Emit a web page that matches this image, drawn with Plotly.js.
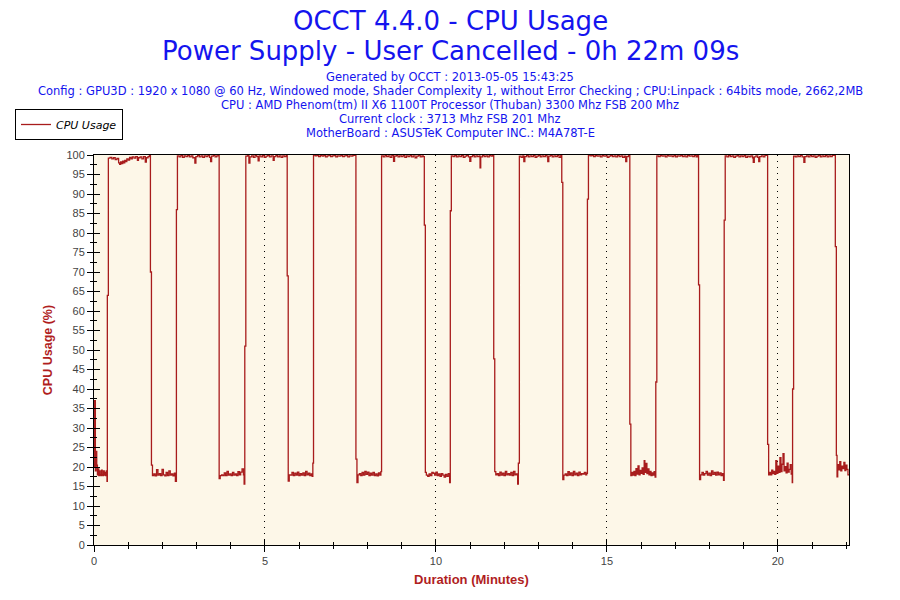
<!DOCTYPE html>
<html><head><meta charset="utf-8">
<script src="https://cdn.plot.ly/plotly-3.0.1.min.js"></script>
<style>html,body{margin:0;padding:0;background:#fff}#chart{width:900px;height:600px}</style>
</head><body><div id="chart"></div>
<script>
const titleLines = ["OCCT 4.4.0 - CPU Usage", "Power Supply - User Cancelled - 0h 22m 09s"];
const infoLines = [
  "Generated by OCCT : 2013-05-05 15:43:25",
  "Config : GPU3D : 1920 x 1080 @ 60 Hz, Windowed mode, Shader Complexity 1, without Error Checking ; CPU:Linpack : 64bits mode, 2662,2MB",
  "CPU : AMD Phenom(tm) II X6 1100T Processor (Thuban) 3300 Mhz FSB 200 Mhz",
  "Current clock : 3713 Mhz FSB 201 Mhz",
  "MotherBoard : ASUSTeK Computer INC.: M4A78T-E"
];
const seriesName = "CPU Usage";
const xTitle = "Duration (Minutes)";
const yTitle = "CPU Usage (%)";
const xMax = 22.08;

const minutes = [
  0, 0.02, 0.04, 0.06, 0.08, 0.10, 0.12, 0.14, 0.16, 0.18, 0.20, 0.22, 0.24, 0.26, 0.28, 0.30, 0.32, 0.34, 0.36, 0.38, 0.39,
  0.42, 0.47, 0.52, 0.57, 0.62, 0.67, 0.72, 0.75, 0.78, 0.81, 0.84, 0.87, 0.90, 0.93, 0.96, 1.00, 1.04, 1.08, 1.12, 1.17, 1.22, 1.27, 1.30, 1.35, 1.40, 1.45, 1.50, 1.53, 1.58, 1.62, 1.65,
  1.68, 1.71, 1.75, 1.79, 1.83, 1.87, 1.91, 1.95, 1.99, 2.03, 2.07, 2.11, 2.15, 2.19, 2.23, 2.27, 2.31, 2.35, 2.38, 2.41,
  2.44, 2.49, 2.54, 2.59, 2.64, 2.69, 2.74, 2.79, 2.84, 2.89, 2.95, 2.98, 3.03, 3.08, 3.13, 3.18, 3.23, 3.28, 3.33, 3.38, 3.41, 3.44, 3.49, 3.54, 3.59, 3.63,
  3.66, 3.69, 3.73, 3.77, 3.81, 3.85, 3.89, 3.93, 3.97, 4.01, 4.05, 4.09, 4.13, 4.17, 4.21, 4.25, 4.29, 4.33, 4.37, 4.39, 4.41,
  4.44, 4.49, 4.53, 4.56, 4.61, 4.66, 4.71, 4.76, 4.80, 4.83, 4.88, 4.93, 4.98, 5.03, 5.08, 5.13, 5.18, 5.24, 5.27, 5.32, 5.37, 5.42, 5.47, 5.52, 5.57, 5.62, 5.65,
  5.68, 5.71, 5.75, 5.79, 5.83, 5.87, 5.91, 5.95, 5.99, 6.03, 6.07, 6.11, 6.15, 6.19, 6.23, 6.27, 6.31, 6.35, 6.38, 6.40,
  6.42, 6.47, 6.52, 6.57, 6.62, 6.67, 6.72, 6.77, 6.82, 6.87, 6.92, 6.97, 7.02, 7.07, 7.12, 7.17, 7.22, 7.27, 7.32, 7.37, 7.42, 7.47, 7.52, 7.57, 7.62, 7.66,
  7.69, 7.72, 7.76, 7.80, 7.84, 7.88, 7.92, 7.96, 8.00, 8.04, 8.08, 8.12, 8.16, 8.20, 8.24, 8.28, 8.32, 8.36, 8.39,
  8.41, 8.46, 8.51, 8.56, 8.61, 8.66, 8.71, 8.76, 8.79, 8.84, 8.89, 8.94, 8.99, 9.04, 9.09, 9.14, 9.19, 9.24, 9.29, 9.34, 9.39, 9.44, 9.49, 9.54, 9.59, 9.63, 9.66,
  9.69, 9.72, 9.76, 9.80, 9.84, 9.88, 9.92, 9.96, 10.00, 10.04, 10.08, 10.12, 10.16, 10.20, 10.24, 10.28, 10.32, 10.36, 10.40, 10.42,
  10.45, 10.50, 10.55, 10.60, 10.65, 10.70, 10.75, 10.80, 10.85, 10.90, 10.95, 10.99, 11.02, 11.07, 11.12, 11.17, 11.22, 11.27, 11.29, 11.31, 11.36, 11.41, 11.46, 11.51, 11.56, 11.61, 11.66, 11.69,
  11.72, 11.75, 11.79, 11.83, 11.87, 11.91, 11.95, 11.99, 12.03, 12.07, 12.11, 12.15, 12.19, 12.23, 12.27, 12.31, 12.35, 12.39, 12.41,
  12.44, 12.49, 12.54, 12.57, 12.60, 12.65, 12.70, 12.75, 12.80, 12.85, 12.90, 12.95, 13.00, 13.05, 13.10, 13.15, 13.20, 13.25, 13.27, 13.30, 13.35, 13.40, 13.45, 13.50, 13.55, 13.60, 13.65, 13.68,
  13.71, 13.74, 13.78, 13.82, 13.86, 13.90, 13.94, 13.98, 14.02, 14.06, 14.10, 14.14, 14.18, 14.22, 14.26, 14.30, 14.34, 14.38, 14.41, 14.43,
  14.46, 14.51, 14.56, 14.61, 14.66, 14.71, 14.76, 14.81, 14.86, 14.91, 14.96, 15.01, 15.06, 15.11, 15.16, 15.21, 15.26, 15.31, 15.36, 15.41, 15.46, 15.51, 15.55, 15.58, 15.63, 15.67,
  15.70, 15.73, 15.76, 15.79, 15.82, 15.85, 15.88, 15.91, 15.94, 15.97, 16.00, 16.03, 16.06, 16.09, 16.11, 16.14, 16.17, 16.20, 16.23, 16.26, 16.29, 16.32, 16.35, 16.38, 16.41, 16.43,
  16.46, 16.51, 16.56, 16.61, 16.66, 16.71, 16.76, 16.81, 16.86, 16.91, 16.96, 17.01, 17.06, 17.11, 17.16, 17.21, 17.26, 17.31, 17.36, 17.41, 17.46, 17.51, 17.56, 17.61, 17.65, 17.68,
  17.71, 17.74, 17.78, 17.82, 17.86, 17.90, 17.94, 17.98, 18.02, 18.06, 18.10, 18.14, 18.18, 18.22, 18.26, 18.30, 18.34, 18.38, 18.41, 18.43,
  18.46, 18.51, 18.56, 18.61, 18.66, 18.71, 18.76, 18.81, 18.86, 18.91, 18.96, 19.01, 19.06, 19.11, 19.16, 19.21, 19.26, 19.28, 19.31, 19.36, 19.41, 19.44, 19.47, 19.52, 19.57, 19.62, 19.67, 19.70,
  19.73, 19.76, 19.79, 19.82, 19.85, 19.88, 19.91, 19.94, 19.97, 20.00, 20.03, 20.06, 20.09, 20.12, 20.15, 20.18, 20.21, 20.24, 20.27, 20.30, 20.33, 20.36, 20.39, 20.42, 20.43,
  20.46, 20.51, 20.56, 20.61, 20.66, 20.71, 20.76, 20.79, 20.84, 20.89, 20.94, 20.99, 21.04, 21.09, 21.14, 21.19, 21.24, 21.29, 21.34, 21.39, 21.44, 21.49, 21.54, 21.59, 21.64, 21.68,
  21.71, 21.73, 21.75, 21.78, 21.81, 21.84, 21.87, 21.90, 21.93, 21.96, 21.99, 22.02, 22.05, 22.08
];

const cpuUsage = [
  20, 37, 19, 24, 20.5, 18, 19.5, 17.8, 19, 18, 17.8, 19.2, 18, 17.8, 19, 17.9, 18.6, 17.8, 19, 16.3, 64,
  99.2, 99.4, 99.0, 99.3, 98.8, 99.1, 98.0, 97.6, 98.2, 97.8, 98.4, 98.0, 98.6, 98.3, 99.0, 98.7, 99.4, 99.0, 99.5, 99.2, 99.6, 98.6, 99.3, 99.5, 99.0, 99.6, 98.2, 99.3, 99.6, 100, 70,
  20.5, 17.8, 18.2, 17.7, 19.3, 17.9, 18.3, 17.8, 19.4, 18.0, 17.7, 18.6, 17.8, 19.0, 17.9, 18.2, 17.7, 18.4, 16.3, 86,
  99.8, 99.5, 99.9, 99.4, 99.8, 99.6, 99.9, 99.5, 99.8, 99.3, 97.9, 99.6, 99.9, 99.5, 99.8, 99.4, 99.8, 99.6, 99.9, 99.4, 98.3, 99.7, 99.9, 99.5, 99.8, 100,
  17.0, 17.8, 18.0, 17.8, 18.5, 17.8, 18.9, 17.9, 18.2, 17.8, 18.6, 17.9, 18.2, 17.8, 18.8, 18.0, 18.7, 19.5, 18.0, 15.6, 51,
  99.7, 99.9, 97.9, 99.5, 99.8, 99.4, 99.9, 99.6, 98.5, 99.8, 99.5, 99.9, 99.4, 99.7, 99.9, 99.5, 99.8, 98.6, 99.6, 99.9, 99.5, 99.8, 99.4, 99.8, 99.6, 100, 69,
  16.4, 18.0, 17.9, 18.6, 17.8, 18.4, 17.9, 18.7, 17.8, 18.3, 17.9, 18.5, 17.8, 18.9, 18.0, 18.4, 17.8, 18.2, 17.6, 21,
  100, 99.8, 99.9, 99.6, 99.9, 99.7, 99.9, 99.5, 99.8, 99.9, 99.6, 99.8, 99.9, 99.5, 99.8, 99.7, 99.9, 99.6, 99.8, 99.9, 99.5, 99.8, 99.7, 99.9, 100, 22,
  16.0, 18.0, 18.3, 17.8, 18.6, 17.9, 18.9, 18.1, 18.7, 17.8, 18.4, 17.9, 18.6, 17.8, 18.2, 17.7, 18.5, 17.9, 18.8,
  99.8, 99.5, 99.9, 99.6, 99.8, 99.4, 99.9, 98.4, 99.7, 99.9, 99.5, 99.8, 99.6, 99.9, 99.4, 99.8, 99.6, 99.9, 99.5, 99.8, 99.3, 99.7, 99.9, 99.5, 99.8, 99.6, 82,
  18.6, 17.9, 17.6, 18.2, 17.8, 18.6, 18.4, 17.9, 18.7, 17.8, 18.2, 17.6, 18.3, 17.9, 17.4, 18.1, 17.6, 18.3, 16.0, 85.7,
  99.8, 99.6, 99.9, 99.5, 99.8, 99.6, 99.9, 99.4, 99.7, 99.9, 99.5, 98.4, 99.6, 99.9, 99.5, 99.8, 99.6, 99.8, 96.7, 99.5, 99.9, 99.6, 99.8, 99.5, 99.9, 99.7, 100, 47.7,
  18.8, 18.0, 18.3, 17.8, 18.7, 17.9, 18.4, 17.8, 18.9, 18.0, 18.3, 17.9, 18.6, 17.8, 18.9, 18.0, 18.2, 15.6, 21,
  99.7, 99.4, 99.8, 98.3, 99.6, 99.9, 99.5, 99.8, 99.6, 99.9, 99.4, 99.7, 99.9, 99.5, 99.8, 99.6, 99.9, 99.5, 98.3, 99.7, 99.9, 99.5, 99.8, 99.6, 99.9, 99.4, 100, 93,
  16.8, 17.9, 18.2, 17.8, 18.8, 17.9, 18.5, 17.8, 18.9, 18.0, 18.4, 17.8, 18.7, 18.0, 18.3, 18.2, 18.6, 18.0, 18.4, 88.7,
  100, 99.8, 99.9, 99.6, 99.9, 99.7, 99.8, 99.5, 99.9, 99.7, 99.8, 99.4, 99.7, 99.9, 99.6, 99.8, 99.5, 99.9, 99.6, 99.8, 99.4, 99.7, 98.3, 99.6, 100, 31,
  17.8, 18.6, 17.9, 18.9, 17.8, 19.6, 18.2, 20.3, 18.0, 19.1, 18.4, 19.8, 18.1, 21.6, 18.6, 20.9, 18.3, 19.5, 18.0, 18.9, 17.8, 18.5, 17.9, 18.8, 17.4, 41.8,
  99.8, 99.6, 99.9, 99.7, 99.8, 99.5, 99.9, 99.7, 99.8, 99.6, 99.9, 99.5, 99.8, 99.7, 99.9, 99.6, 99.8, 99.5, 99.9, 99.7, 99.8, 99.6, 99.9, 99.5, 100, 66.7,
  16.8, 18.0, 18.6, 17.9, 18.3, 18.9, 17.9, 18.4, 17.8, 19.0, 18.1, 18.6, 17.9, 18.7, 18.0, 18.5, 17.8, 18.3, 16.6, 83.3,
  99.8, 99.5, 99.9, 99.6, 99.8, 99.4, 99.7, 99.9, 99.5, 99.8, 99.6, 99.9, 99.4, 99.7, 99.5, 99.8, 99.3, 98.1, 99.5, 99.8, 99.4, 98.3, 99.6, 99.8, 99.5, 99.9, 100, 25.8,
  18.0, 18.6, 18.0, 19.2, 18.3, 18.9, 18.1, 21.6, 18.4, 20.2, 18.6, 22.4, 18.8, 20.7, 23.4, 19.0, 20.1, 18.5, 21.0, 18.7, 19.4, 20.6, 18.2, 16.0, 40,
  99.7, 99.5, 99.8, 99.6, 99.9, 99.5, 98.1, 99.6, 99.8, 99.5, 99.9, 99.6, 99.8, 99.4, 99.7, 99.9, 99.5, 99.8, 99.6, 99.9, 99.5, 99.8, 99.6, 99.9, 100, 76.5,
  23.0, 17.5, 20.6, 19.3, 21.4, 19.0, 20.2, 19.6, 21.2, 19.1, 20.5, 19.4, 18.0, 17.9
];

const lineColor = "#a81c1c";
const axisTitleColor = "#b01e1e";
const textBlue = "#1414ee";
const tickFont = {family: "Liberation Sans, Arial, sans-serif", size: 11, color: "#444444"};

const traces = [
  {x: minutes, y: cpuUsage, type: "scatter", mode: "lines", name: seriesName,
   line: {color: lineColor, width: 1.3, shape: "hv"}, hoverinfo: "x+y"},
  {x: [], y: [], xaxis: "x2", yaxis: "y", showlegend: false, hoverinfo: "skip"},
  {x: [], y: [], xaxis: "x", yaxis: "y2", showlegend: false, hoverinfo: "skip"}
];

function px2y(p) { return (545 - p) / 390; }
const centerX = (450 - 94) / 755;

const annotations = [
  {text: titleLines[0], y: px2y(21), size: 26},
  {text: titleLines[1], y: px2y(51), size: 26},
  {text: infoLines[0], y: px2y(77), size: 11.5},
  {text: infoLines[1], y: px2y(91), size: 11.5},
  {text: infoLines[2], y: px2y(105), size: 11.5},
  {text: infoLines[3], y: px2y(119), size: 11.5},
  {text: infoLines[4], y: px2y(133), size: 11.5}
].map(a => ({
  text: a.text, xref: "paper", yref: "paper", x: centerX, y: a.y,
  xanchor: "center", yanchor: "middle", showarrow: false,
  font: {family: "DejaVu Sans, Verdana, sans-serif", size: a.size, color: textBlue}
}));

const layout = {
  width: 900, height: 600,
  margin: {l: 94, r: 51, t: 155, b: 55, pad: 0},
  paper_bgcolor: "#ffffff",
  plot_bgcolor: "#fdf7e8",
  showlegend: true,
  legend: {x: (15 - 94) / 755, y: px2y(109), xanchor: "left", yanchor: "top",
    bgcolor: "#ffffff", bordercolor: "#000000", borderwidth: 1,
    font: {family: "DejaVu Sans, Verdana, sans-serif", size: 11, style: "italic", color: "#000000"}},
  xaxis: {
    range: [0, xMax], tick0: 0, dtick: 5, ticks: "outside", ticklen: 6, tickwidth: 1, tickcolor: "#000000",
    showline: true, linecolor: "#000000", linewidth: 1, mirror: true, zeroline: false,
    showgrid: true, gridcolor: "#000000", gridwidth: 1, griddash: "1px,5px",
    tickfont: tickFont, automargin: true,
    minor: {dtick: 1, ticks: "outside", ticklen: 3, tickcolor: "#000000", showgrid: false},
    title: {text: xTitle, standoff: 8, font: {family: "Liberation Sans, Arial, sans-serif", size: 13, color: axisTitleColor, weight: "bold"}}
  },
  yaxis: {
    range: [0, 100], tick0: 0, dtick: 5, ticks: "outside", ticklen: 6, tickwidth: 1, tickcolor: "#000000",
    showline: true, linecolor: "#000000", linewidth: 1, mirror: true, zeroline: false,
    showgrid: false, tickfont: tickFont, automargin: true,
    minor: {dtick: 2.5, ticks: "outside", ticklen: 3, tickcolor: "#000000", showgrid: false},
    title: {text: yTitle, standoff: 11, font: {family: "Liberation Sans, Arial, sans-serif", size: 12.5, color: axisTitleColor, weight: "bold"}}
  },
  xaxis2: {
    overlaying: "x", anchor: "y", side: "bottom", range: [0, xMax], tick0: 0, dtick: 5,
    ticks: "inside", ticklen: 6, tickcolor: "#000000", showticklabels: false,
    showgrid: false, showline: false, zeroline: false,
    minor: {dtick: 1, ticks: "inside", ticklen: 3, tickcolor: "#000000", showgrid: false}
  },
  yaxis2: {
    overlaying: "y", anchor: "x", side: "left", range: [0, 100], tick0: 0, dtick: 5,
    ticks: "inside", ticklen: 6, tickcolor: "#000000", showticklabels: false,
    showgrid: false, showline: false, zeroline: false,
    minor: {dtick: 2.5, ticks: "inside", ticklen: 3, tickcolor: "#000000", showgrid: false}
  },
  annotations: annotations
};

Plotly.newPlot("chart", traces, layout, {displayModeBar: false, staticPlot: true});
</script>
</body></html>
